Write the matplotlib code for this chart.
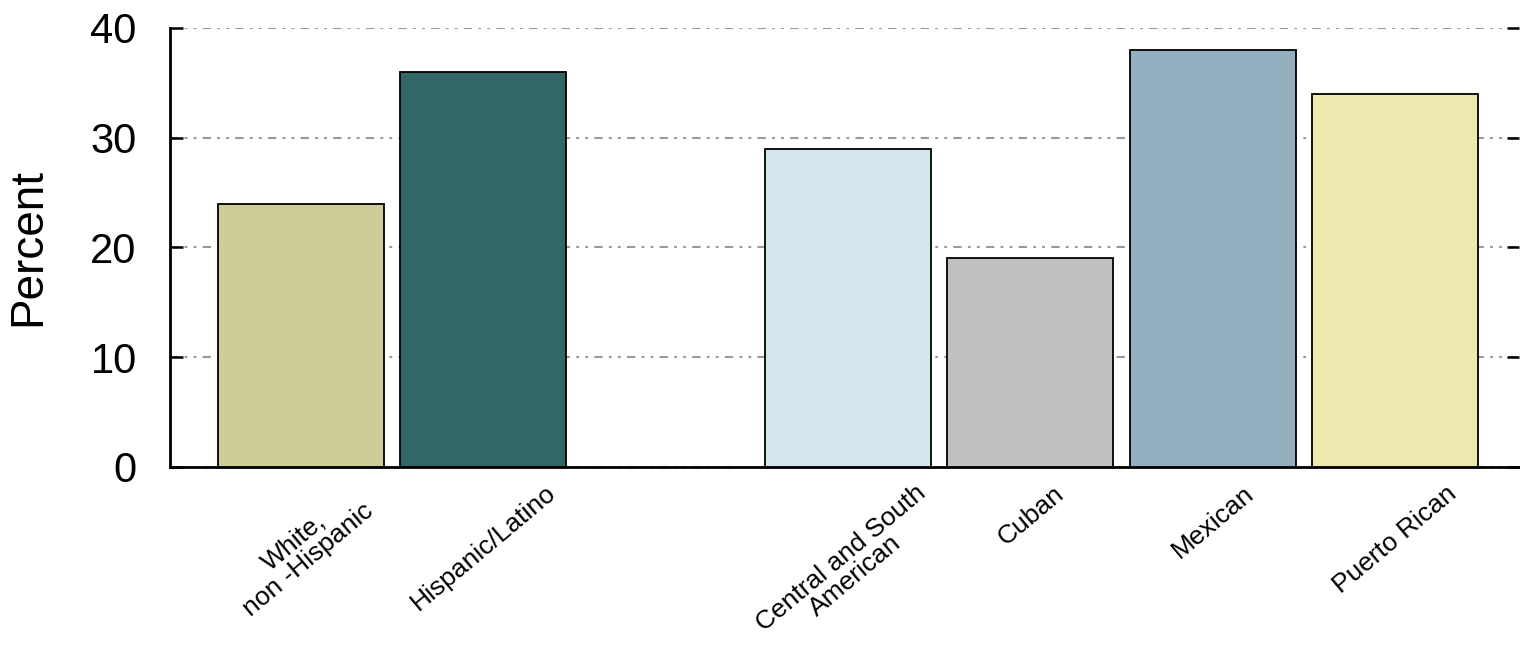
import matplotlib
matplotlib.use("Agg")
import matplotlib.pyplot as plt

categories = ["White,\nnon -Hispanic", "Hispanic/Latino", "Central and South\nAmerican",
              "Cuban", "Mexican", "Puerto Rican"]
values = [24, 36, 29, 19, 38, 34]
positions = [0, 1, 3, 4, 5, 6]
colors = ["#CDCD9A", "#336666", "#D2E6EB", "#C0C0C0", "#94AFC0", "#ECEAAE"]
yticks = [0, 10, 20, 30, 40]

plt.rcParams['font.family'] = ['Liberation Sans', 'DejaVu Sans']
plt.rcParams['lines.scale_dashes'] = False

fig = plt.figure(figsize=(15.2, 6.54), dpi=100)
ax = fig.add_axes([170/1520, 1 - 467/654, 1 - 170/1520 - 0.0005, (467 - 28)/654])

ax.bar(positions, values, width=0.91, color=colors, edgecolor="black", linewidth=1.3, zorder=3)

ax.set_ylim(0, 40)
ax.set_xlim(-0.718, 6.68)
ax.set_yticks(yticks)
ax.set_yticklabels([str(t) for t in yticks], fontsize=30)
ax.yaxis.grid(True, color="#999999", linewidth=1.5, linestyle=(0, (6, 4.5, 2, 4.5, 2, 4.5)), zorder=0)

ax.tick_params(axis='y', direction='in', length=9, width=1.8, pad=24, right=True, labelright=False)
ax.set_xticks(positions)
ax.set_xticklabels(categories, rotation=40, ha='center', va='top', fontsize=19, linespacing=0.95)
ax.tick_params(axis='x', length=0, pad=10)

for s in ['top', 'right']:
    ax.spines[s].set_visible(False)
for s in ['left', 'bottom']:
    ax.spines[s].set_linewidth(2)
    ax.spines[s].set_color('black')

ax.set_ylabel("Percent", fontsize=33)
ax.yaxis.set_label_coords(-(170 - 50)/1350, 0.5)

fig.savefig("out.png", dpi=100)
